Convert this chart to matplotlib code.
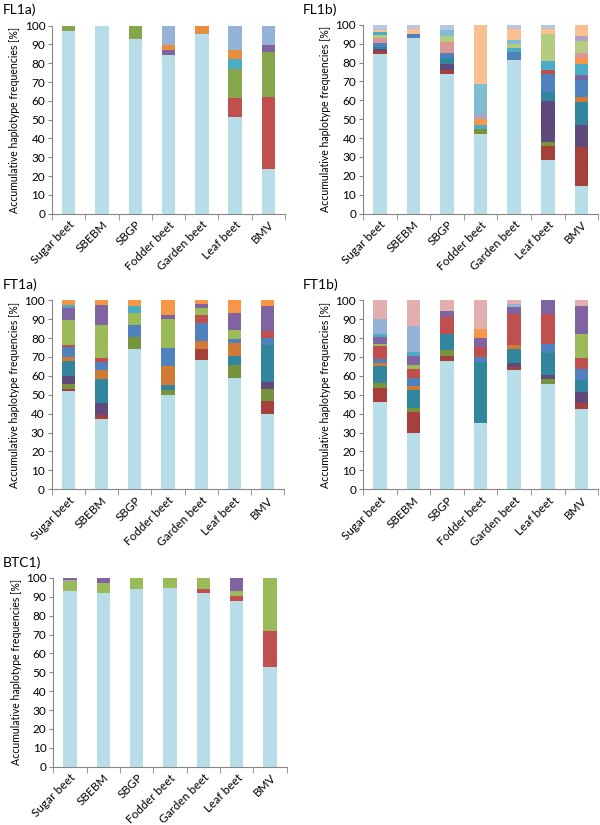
import numpy as np
import matplotlib
matplotlib.use("Agg")
import matplotlib.pyplot as plt

plt.rcParams['font.family'] = ['Lato', 'DejaVu Sans']

categories = ["Sugar beet", "SBEBM", "SBGP", "Fodder beet", "Garden beet", "Leaf beet", "BMV"]

# colour names used for the haplotype segments
colors = {
    "lb": "#B7DEE8", "dr": "#A5403D", "r": "#C0504D", "g": "#77933C", "g2": "#86A64B",
    "lg": "#9BBB59", "llg": "#B3CC82", "p": "#8064A2", "dp": "#604A7B", "t": "#31859C",
    "cy": "#4BACC6", "o": "#F79646", "do": "#D07A35", "b": "#4F81BD", "sb": "#95B3D7",
    "lav": "#B9C7E3", "pk": "#D99694", "lpk": "#E2AEAE", "pe": "#FAC090", "lp": "#B3A2C7",
    "sk": "#7FBCD2", "fo": "#E98C3E",
}

# each bar: segment colours from bottom to top and the cumulative top of each segment (%)
fl1a_cols = [["lb", "g2"], ["lb"], ["lb", "g2"], ["lb", "p", "fo", "sb"], ["lb", "fo"],
             ["lb", "r", "g2", "cy", "fo", "sb"], ["lb", "r", "g2", "p", "sb"]]
fl1a_tops = [[97, 100], [100], [93, 100], [84.5, 87, 89.5, 100], [95.5, 100],
             [51.5, 61.5, 77, 82, 87, 100], [24, 62, 86, 89.5, 100]]

fl1b_cols = [["lb", "dr", "dp", "t", "b", "pk", "llg", "cy", "pe", "lav"],
             ["lb", "b", "pe", "lav"],
             ["lb", "dr", "dp", "t", "b", "pk", "llg", "sk", "lav"],
             ["lb", "g", "cy", "o", "lp", "sk", "pe"],
             ["lb", "b", "cy", "llg", "sk", "pe", "lav"],
             ["lb", "dr", "g", "dp", "t", "b", "r", "cy", "llg", "pe", "lav"],
             ["lb", "dr", "dp", "t", "do", "b", "p", "cy", "o", "pk", "llg", "lp", "pe"]]
fl1b_tops = [[84.5, 86, 87, 88, 90.6, 93.2, 94.5, 95.9, 97.4, 100],
             [92.9, 95.2, 97.7, 100],
             [73.7, 76.2, 79.4, 82.5, 85.3, 91, 94.2, 97, 100],
             [42.3, 44.8, 47.2, 50, 52.9, 68.4, 100],
             [81.6, 85.7, 87.5, 90, 91.7, 97.7, 100],
             [28.6, 35.6, 38.1, 59.6, 64.5, 74.1, 76.2, 80.7, 95.2, 97.7, 100],
             [14.8, 35.2, 47.2, 58.9, 61.7, 70.9, 73.3, 79.4, 82.5, 85.3, 91.3, 94.2, 100]]

ft1a_cols = [["lb", "dr", "g", "dp", "t", "do", "b", "r", "lg", "p", "cy", "o"],
             ["lb", "dr", "dp", "t", "do", "b", "r", "lg", "p", "o"],
             ["lb", "g", "b", "lg", "cy", "o"],
             ["lb", "g", "t", "do", "b", "lg", "p", "o"],
             ["lb", "dr", "do", "b", "r", "lg", "p", "o"],
             ["lb", "g", "t", "do", "b", "lg", "p", "o"],
             ["lb", "dr", "g", "dp", "t", "b", "r", "p", "o"]]
ft1a_tops = [[52, 52.9, 55.9, 59.8, 67.7, 70, 75.3, 76.6, 89.4, 95.9, 97.4, 100],
             [37, 39.2, 45.7, 58.6, 63, 67.4, 69.5, 86.8, 97.7, 100],
             [74.4, 80.6, 87.1, 93.5, 96.8, 100],
             [50.1, 52.4, 55, 65.1, 75, 89.9, 92.4, 100],
             [68.6, 74.4, 78.3, 88.2, 92.1, 95.9, 98, 100],
             [59.1, 66, 70.5, 77.4, 79.7, 84.3, 93.3, 100],
             [40, 46.6, 53.3, 56.8, 76.6, 80, 83.6, 96.8, 100]]

ft1b_cols = [["lb", "dr", "g", "t", "do", "b", "r", "lg", "p", "cy", "sb", "lpk"],
             ["lb", "dr", "g", "t", "do", "b", "r", "lg", "p", "cy", "sb", "lpk"],
             ["lb", "dr", "g", "t", "r", "p", "lpk"],
             ["lb", "t", "b", "r", "p", "o", "lpk"],
             ["lb", "dr", "dp", "t", "do", "r", "p", "sb", "lpk"],
             ["lb", "g", "dp", "t", "b", "r", "p"],
             ["lb", "dr", "dp", "t", "b", "r", "lg", "p", "lpk"]]
ft1b_tops = [[46.2, 53.6, 56.4, 65.2, 66.7, 69.1, 75.8, 77.1, 80.6, 82, 89.9, 100],
             [29.8, 40.9, 43.2, 52.4, 54.5, 58.9, 63.5, 66, 70.5, 72.6, 86.2, 100],
             [67.7, 70.5, 73.5, 82.4, 91, 94.2, 100],
             [35.3, 67.4, 70, 75.3, 80, 85, 100],
             [63, 64.7, 66.8, 74.1, 76.2, 92.6, 96.3, 98, 100],
             [55.9, 58.2, 60.3, 72.1, 76.7, 93, 100],
             [42.7, 45.7, 51.5, 57.7, 63.9, 69.7, 81.9, 96.8, 100]]

btc1_cols = [["lb", "lg", "lp", "p"], ["lb", "lg", "p"], ["lb", "lg"], ["lb", "lg"],
             ["lb", "r", "lg"], ["lb", "r", "lg", "p"], ["lb", "r", "lg"]]
btc1_tops = [[93.1, 98.5, 99.2, 100], [92.2, 97.2, 100], [94.2, 100], [94.9, 100],
             [92, 94, 100], [88, 90.5, 93, 100], [53, 72, 100]]


def draw_panel(ax, title, title_xy, cols, tops):
    x = np.arange(len(categories))
    for i in range(len(categories)):
        t = np.array(tops[i])
        bottoms = np.concatenate([[0], t[:-1]])
        heights = t - bottoms
        ax.bar(np.full(len(t), x[i]), heights, bottom=bottoms, width=0.4,
               color=[colors[c] for c in cols[i]], linewidth=0)
    ax.set_xlim(-0.5, len(categories) - 0.5)
    ax.set_ylim(0, 100)
    ax.set_yticks(np.arange(0, 101, 10))
    ax.set_xticks(x)
    ax.set_xticklabels(categories, rotation=45, ha="right", rotation_mode="anchor", fontsize=8.5)
    ax.set_xticks(np.arange(-0.5, len(categories), 1), minor=True)
    ax.tick_params(axis="x", which="major", length=0, pad=4)
    ax.tick_params(axis="x", which="minor", length=4, color="#868686", direction="out")
    ax.tick_params(axis="y", length=3, color="#868686", labelsize=8.5, pad=2)
    for s in ["top", "right"]:
        ax.spines[s].set_visible(False)
    for s in ["left", "bottom"]:
        ax.spines[s].set_color("#868686")
        ax.spines[s].set_linewidth(0.8)
    ax.set_ylabel("Accumulative haplotype frequencies [%]", fontsize=7.6, labelpad=3)
    ax.figure.text(title_xy[0], title_xy[1], title, fontsize=10, ha="left", va="center")


fig = plt.figure(figsize=(6, 8.25), dpi=100)

ax1 = fig.add_axes([0.087, 0.741, 0.388, 0.228])
ax2 = fig.add_axes([0.605, 0.741, 0.392, 0.229])
ax3 = fig.add_axes([0.086, 0.407, 0.388, 0.229])
ax4 = fig.add_axes([0.605, 0.407, 0.392, 0.229])
ax5 = fig.add_axes([0.089, 0.0707, 0.389, 0.2287])

draw_panel(ax1, "FL1a)", (0.005, 0.988), fl1a_cols, fl1a_tops)
draw_panel(ax2, "FL1b)", (0.505, 0.988), fl1b_cols, fl1b_tops)
draw_panel(ax3, "FT1a)", (0.005, 0.655), ft1a_cols, ft1a_tops)
draw_panel(ax4, "FT1b)", (0.505, 0.655), ft1b_cols, ft1b_tops)
draw_panel(ax5, "BTC1)", (0.005, 0.318), btc1_cols, btc1_tops)

plt.savefig("out.png", dpi=100)
